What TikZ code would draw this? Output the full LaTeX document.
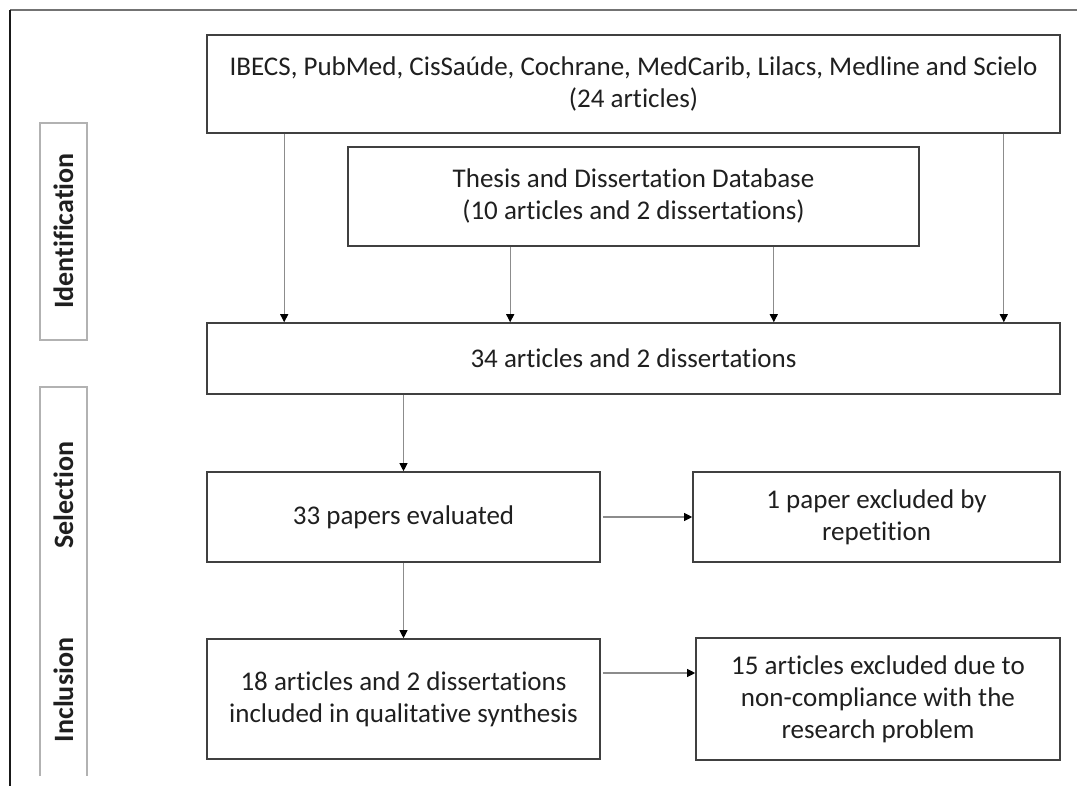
\documentclass[tikz,border=0pt]{standalone}
\usepackage{fontspec}
\setmainfont{Carlito}[Ligatures={NoCommon}]
\usepackage{tikz}
\usetikzlibrary{arrows.meta,positioning}

\begin{document}
\begin{tikzpicture}[x=1pt, y=-1pt,
    box/.style={draw=black!75, line width=1.6pt, inner sep=0pt, align=center,
                text=black!88, font=\fontsize{27}{32}\selectfont},
    side/.style={rotate=90, font=\fontsize{28}{30}\selectfont\bfseries, text=black!88},
    flow/.style={draw=black!45, line width=1.1pt, -{Triangle[width=8pt,length=8pt,color=black]}},
    frame/.style={draw=black!30, line width=1.2pt}
  ]
  \useasboundingbox (0,0) rectangle (1077,786);
  % outer frame (top and left only)
  \draw[black!55, line width=1.5pt] (1077,10) -- (10,10);
  \draw[black!90, line width=1.3pt] (10,10) -- (10,786);

  % stage labels
  \draw[frame] (40,123) rectangle (87,340);
  \draw[frame] (40,776) -- (40,387) -- (87,387) -- (87,776);
  \node[side] (IDENT) at (63.5,231) {Identification};
  \node[side] (SELEC) at (63.5,495) {Selection};
  \node[side] (INCL)  at (63.5,690) {Inclusion};

  % boxes
  \node[box, minimum width=853pt, minimum height=98pt]  (DB)     at (633.5,84)    {IBECS, PubMed, CisSaúde, Cochrane, MedCarib, Lilacs, Medline and Scielo\\(24 articles)};
  \node[box, minimum width=571pt, minimum height=99pt]  (THESIS) at (633.5,196.5) {Thesis and Dissertation Database\\(10 articles and 2 dissertations)};
  \node[box, minimum width=853pt, minimum height=71pt]  (TOTAL)  at (633.5,358.5) {34 articles and 2 dissertations};
  \node[box, minimum width=393pt, minimum height=90pt]  (EVAL)   at (403.5,517)   {33 papers evaluated};
  \node[box, minimum width=367pt, minimum height=90pt]  (REPEAT) at (876.5,517)   {1 paper excluded by\\repetition};
  \node[box, minimum width=393pt, minimum height=120pt] (INCLD)  at (403.5,699)   {18 articles and 2 dissertations\\included in qualitative synthesis};
  \node[box, minimum width=364pt, minimum height=122pt] (EXCL)   at (878,699)     {15 articles excluded due to\\non-compliance with the\\research problem};

  % connectors
  \draw[flow] ([xshift=78pt]DB.south west) -- ([xshift=78pt]TOTAL.north west);
  \draw[flow] ([xshift=-57pt]DB.south east) -- ([xshift=-57pt]TOTAL.north east);
  \draw[flow] ([xshift=163pt]THESIS.south west) -- ([xshift=304pt]TOTAL.north west);
  \draw[flow] ([xshift=-146pt]THESIS.south east) -- ([xshift=-287pt]TOTAL.north east);
  \draw[flow] (TOTAL.south -| EVAL.north) -- (EVAL.north);
  \draw[flow] ([xshift=2pt]EVAL.east) -- (REPEAT.west);
  \draw[flow] (EVAL.south) -- (INCLD.north);
  \draw[flow] ([xshift=2pt, yshift=26pt]INCLD.east) -- ([yshift=26pt]INCLD.east -| EXCL.west);
\end{tikzpicture}
\end{document}
